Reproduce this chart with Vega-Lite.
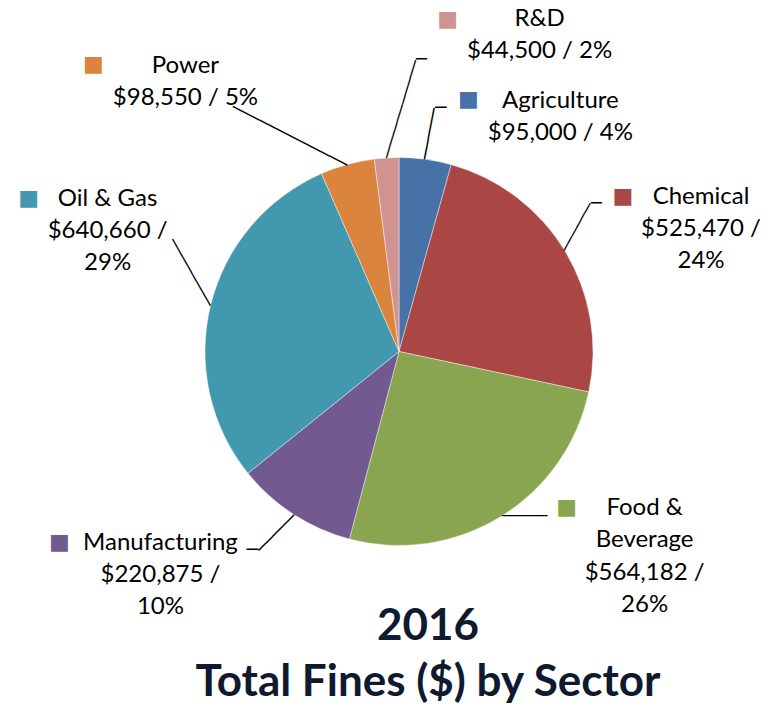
{
  "$schema": "https://vega.github.io/schema/vega-lite/v6.json",
  "width": 746,
  "height": 703,
  "autosize": "none",
  "padding": {"left": 26, "top": 0, "right": 0, "bottom": 5},
  "background": "white",
  "config": {"view": {"stroke": null}},
  "title": {
    "text": ["2016", "Total Fines ($) by Sector"],
    "orient": "bottom",
    "frame": "group",
    "anchor": "middle",
    "offset": -98,
    "dx": 29,
    "font": "Lato",
    "fontSize": 44,
    "fontWeight": "bold",
    "color": "#0f1a30",
    "lineHeight": 56
  },
  "data": {
    "values": [
      {"sector": "Agriculture", "fines": 95000, "label": "Agriculture\n$95,000 / 4%"},
      {"sector": "Chemical", "fines": 525470, "label": "Chemical\n$525,470 /\n24%"},
      {"sector": "Food & Beverage", "fines": 564182, "label": "Food &\nBeverage\n$564,182 /\n26%"},
      {"sector": "Manufacturing", "fines": 220875, "label": "Manufacturing\n$220,875 /\n10%"},
      {"sector": "Oil & Gas", "fines": 640660, "label": "Oil & Gas\n$640,660 /\n29%"},
      {"sector": "Power", "fines": 98550, "label": "Power\n$98,550 / 5%"},
      {"sector": "R&D", "fines": 44500, "label": "R&D\n$44,500 / 2%"}
    ]
  },
  "encoding": {
    "theta": {"field": "fines", "type": "quantitative", "stack": true},
    "color": {
      "field": "sector",
      "type": "nominal",
      "scale": {
        "domain": ["Agriculture", "Chemical", "Food & Beverage", "Manufacturing", "Oil & Gas", "Power", "R&D"],
        "range": ["#4672A8", "#AA4643", "#8AA54F", "#72598F", "#4299AF", "#DB843D", "#D19392"]
      },
      "legend": null
    }
  },
  "layer": [
    {"mark": {"type": "arc", "radius": 194, "stroke": "#ffffff", "strokeWidth": 0.7, "strokeOpacity": 0.6}},

    {"mark": {"type": "text", "radius": 194, "angle": -79.4, "align": "left", "baseline": "middle", "font": "DejaVu Sans", "fontSize": 17.3, "fill": "#000000"},
     "encoding": {"text": {"condition": {"test": "datum.sector === 'Agriculture'", "value": "─────"}, "value": ""}}},
    {"mark": {"type": "text", "radius": 194, "angle": -61.1, "align": "left", "baseline": "middle", "font": "DejaVu Sans", "fontSize": 14.9, "fill": "#000000"},
     "encoding": {"text": {"condition": {"test": "datum.sector === 'Chemical'", "value": "──────"}, "value": ""}}},
    {"mark": {"type": "text", "radius": 194, "dx": 1.4, "dy": -0.8, "align": "left", "baseline": "middle", "font": "DejaVu Sans", "fontSize": 15.1, "fill": "#000000"},
     "encoding": {"text": {"condition": {"test": "datum.sector === 'Food & Beverage'", "value": "─────"}, "value": ""}}},
    {"mark": {"type": "text", "radius": 194, "angle": 134.7, "align": "left", "baseline": "middle", "font": "DejaVu Sans", "fontSize": 16.7, "fill": "#000000"},
     "encoding": {"text": {"condition": {"test": "datum.sector === 'Manufacturing'", "value": "─────"}, "value": ""}}},
    {"mark": {"type": "text", "radius": 194, "angle": -119.6, "align": "left", "baseline": "middle", "font": "DejaVu Sans", "fontSize": 15.8, "fill": "#000000"},
     "encoding": {"text": {"condition": {"test": "datum.sector === 'Oil & Gas'", "value": "────────"}, "value": ""}}},
    {"mark": {"type": "text", "radius": 194, "angle": -152.9, "align": "left", "baseline": "middle", "font": "DejaVu Sans", "fontSize": 16.4, "fill": "#000000"},
     "encoding": {"text": {"condition": {"test": "datum.sector === 'Power'", "value": "─────────────"}, "value": ""}}},
    {"mark": {"type": "text", "radius": 194, "angle": -73.3, "align": "left", "baseline": "middle", "font": "DejaVu Sans", "fontSize": 15.4, "fill": "#000000"},
     "encoding": {"text": {"condition": {"test": "datum.sector === 'R&D'", "value": "───────────"}, "value": ""}}},

    {"mark": {"type": "text", "radius": 194, "dx": 9.6, "dy": -51.3, "align": "left", "baseline": "middle", "font": "DejaVu Sans", "fontSize": 19, "fill": "#000000"},
     "encoding": {"text": {"condition": {"test": "datum.sector === 'Agriculture'", "value": "─"}, "value": ""}}},
    {"mark": {"type": "text", "radius": 194, "dx": 26, "dy": -47.1, "align": "left", "baseline": "middle", "font": "DejaVu Sans", "fontSize": 18, "fill": "#000000"},
     "encoding": {"text": {"condition": {"test": "datum.sector === 'Chemical'", "value": "─"}, "value": ""}}},
    {"mark": {"type": "text", "radius": 194, "dx": -35.4, "dy": 35.8, "align": "right", "baseline": "middle", "font": "DejaVu Sans", "fontSize": 19, "fill": "#000000"},
     "encoding": {"text": {"condition": {"test": "datum.sector === 'Manufacturing'", "value": "─"}, "value": ""}}},
    {"mark": {"type": "text", "radius": 194, "dx": 29.4, "dy": -97.9, "align": "left", "baseline": "middle", "font": "DejaVu Sans", "fontSize": 18, "fill": "#000000"},
     "encoding": {"text": {"condition": {"test": "datum.sector === 'R&D'", "value": "─"}, "value": ""}}},

    {"mark": {"type": "text", "radius": 194, "dx": 135, "dy": -51, "align": "center", "baseline": "alphabetic", "lineBreak": "\n", "font": "Lato", "fontSize": 24, "lineHeight": 32, "fill": "#000000"},
     "encoding": {"text": {"condition": {"test": "datum.sector === 'Agriculture'", "field": "label"}, "value": ""}}},
    {"mark": {"type": "text", "radius": 194, "dx": 136, "dy": -47, "align": "center", "baseline": "alphabetic", "lineBreak": "\n", "font": "Lato", "fontSize": 24, "lineHeight": 32, "fill": "#000000"},
     "encoding": {"text": {"condition": {"test": "datum.sector === 'Chemical'", "field": "label"}, "value": ""}}},
    {"mark": {"type": "text", "radius": 194, "dx": 144, "dy": -2, "align": "center", "baseline": "alphabetic", "lineBreak": "\n", "font": "Lato", "fontSize": 24, "lineHeight": 32.5, "fill": "#000000"},
     "encoding": {"text": {"condition": {"test": "datum.sector === 'Food & Beverage'", "field": "label"}, "value": ""}}},
    {"mark": {"type": "text", "radius": 194, "dx": -133, "dy": 36, "align": "center", "baseline": "alphabetic", "lineBreak": "\n", "font": "Lato", "fontSize": 24, "lineHeight": 32, "fill": "#000000"},
     "encoding": {"text": {"condition": {"test": "datum.sector === 'Manufacturing'", "field": "label"}, "value": ""}}},
    {"mark": {"type": "text", "radius": 194, "dx": -103, "dy": -99, "align": "center", "baseline": "alphabetic", "lineBreak": "\n", "font": "Lato", "fontSize": 24, "lineHeight": 32, "fill": "#000000"},
     "encoding": {"text": {"condition": {"test": "datum.sector === 'Oil & Gas'", "field": "label"}, "value": ""}}},
    {"mark": {"type": "text", "radius": 194, "dx": -162, "dy": -91, "align": "center", "baseline": "alphabetic", "lineBreak": "\n", "font": "Lato", "fontSize": 24, "lineHeight": 32, "fill": "#000000"},
     "encoding": {"text": {"condition": {"test": "datum.sector === 'Power'", "field": "label"}, "value": ""}}},
    {"mark": {"type": "text", "radius": 194, "dx": 153, "dy": -132, "align": "center", "baseline": "alphabetic", "lineBreak": "\n", "font": "Lato", "fontSize": 24, "lineHeight": 32, "fill": "#000000"},
     "encoding": {"text": {"condition": {"test": "datum.sector === 'R&D'", "field": "label"}, "value": ""}}},

    {"mark": {"type": "text", "radius": 194, "dx": 43, "dy": -60, "align": "center", "baseline": "middle", "font": "DejaVu Sans", "fontSize": 22},
     "encoding": {"text": {"condition": {"test": "datum.sector === 'Agriculture'", "value": "■"}, "value": ""}}},
    {"mark": {"type": "text", "radius": 194, "dx": 58, "dy": -55, "align": "center", "baseline": "middle", "font": "DejaVu Sans", "fontSize": 22},
     "encoding": {"text": {"condition": {"test": "datum.sector === 'Chemical'", "value": "■"}, "value": ""}}},
    {"mark": {"type": "text", "radius": 194, "dx": 66, "dy": -10, "align": "center", "baseline": "middle", "font": "DejaVu Sans", "fontSize": 22},
     "encoding": {"text": {"condition": {"test": "datum.sector === 'Food & Beverage'", "value": "■"}, "value": ""}}},
    {"mark": {"type": "text", "radius": 194, "dx": -234, "dy": 28, "align": "center", "baseline": "middle", "font": "DejaVu Sans", "fontSize": 22},
     "encoding": {"text": {"condition": {"test": "datum.sector === 'Manufacturing'", "value": "■"}, "value": ""}}},
    {"mark": {"type": "text", "radius": 194, "dx": -182, "dy": -107, "align": "center", "baseline": "middle", "font": "DejaVu Sans", "fontSize": 22},
     "encoding": {"text": {"condition": {"test": "datum.sector === 'Oil & Gas'", "value": "■"}, "value": ""}}},
    {"mark": {"type": "text", "radius": 194, "dx": -254, "dy": -100, "align": "center", "baseline": "middle", "font": "DejaVu Sans", "fontSize": 22},
     "encoding": {"text": {"condition": {"test": "datum.sector === 'Power'", "value": "■"}, "value": ""}}},
    {"mark": {"type": "text", "radius": 194, "dx": 61, "dy": -139, "align": "center", "baseline": "middle", "font": "DejaVu Sans", "fontSize": 22},
     "encoding": {"text": {"condition": {"test": "datum.sector === 'R&D'", "value": "■"}, "value": ""}}}
  ]
}
